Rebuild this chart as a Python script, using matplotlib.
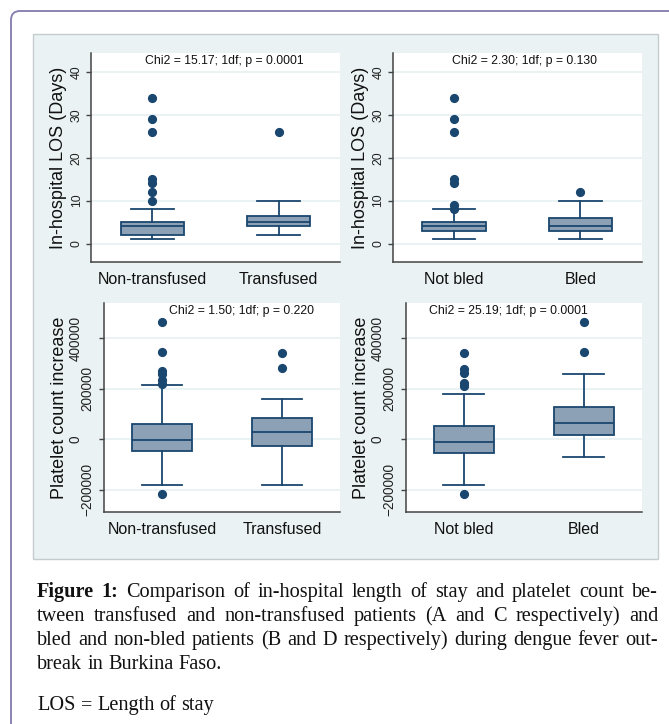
import matplotlib
matplotlib.use("Agg")
import matplotlib.pyplot as plt
from matplotlib.patches import FancyBboxPatch, Rectangle

# ---------------- data ----------------
los_transf_labels = ["Non-transfused", "Transfused"]
los_transf_q1 = [2, 4]
los_transf_med = [4, 5]
los_transf_q3 = [5, 6.5]
los_transf_whislo = [1, 2]
los_transf_whishi = [8, 10]
los_transf_fliers = [[10, 12, 14, 15, 26, 29, 34], [26]]
los_transf_note = "Chi2 = 15.17; 1df; p = 0.0001"

los_bled_labels = ["Not bled", "Bled"]
los_bled_q1 = [3, 3]
los_bled_med = [4, 4]
los_bled_q3 = [5, 6]
los_bled_whislo = [1, 1]
los_bled_whishi = [8, 10]
los_bled_fliers = [[8, 9, 14, 15, 26, 29, 34], [12]]
los_bled_note = "Chi2 = 2.30; 1df; p = 0.130"

plt_transf_labels = ["Non-transfused", "Transfused"]
plt_transf_q1 = [-47700, -26500]
plt_transf_med = [-2000, 29000]
plt_transf_q3 = [59600, 85000]
plt_transf_whislo = [-180000, -180000]
plt_transf_whishi = [214600, 157600]
plt_transf_fliers = [[-218500, 220000, 234000, 257000, 269000, 344000, 463000], [282000, 340000]]
plt_transf_note = "Chi2 = 1.50; 1df; p = 0.220"

plt_bled_labels = ["Not bled", "Bled"]
plt_bled_q1 = [-57000, 17000]
plt_bled_med = [-10600, 65000]
plt_bled_q3 = [51700, 126000]
plt_bled_whislo = [-180000, -70000]
plt_bled_whishi = [177500, 257000]
plt_bled_fliers = [[-218500, 210000, 221000, 260000, 277000, 340000], [344000, 463000]]
plt_bled_note = "Chi2 = 25.19; 1df; p = 0.0001"

los_ticks = [0, 10, 20, 30, 40]
plt_ticks = [-200000, 0, 200000, 400000]
los_ylabel = "In-hospital LOS (Days)"
plt_ylabel = "Platelet count increase"

caption_lines = [
    "Figure 1: Comparison of in-hospital length of stay and platelet count be-",
    "tween transfused and non-transfused patients (A and C respectively) and",
    "bled and non-bled patients (B and D respectively) during dengue fever out-",
    "break in Burkina Faso.",
    "LOS = Length of stay",
]

# ---------------- style ----------------
W, H = 669, 724
BG = "#EAF2F3"
NAVY = "#1A476F"
FILL = "#8CA1B6"
SANS = "Liberation Sans"
SERIF = "Liberation Serif"

fig = plt.figure(figsize=(W / 100, H / 100), dpi=100)
fig.patch.set_facecolor("white")

# outer rounded border (extends past right/bottom)
border = FancyBboxPatch((11, -40), 720, H - 11 + 40, boxstyle="round,pad=0,rounding_size=9",
                        transform=None, fc="none", ec="#8A84B2", lw=1.4, zorder=-3)
fig.add_artist(border)
# graph panel
panel = Rectangle((33 / W, 1 - 559 / H), (658 - 33) / W, (559 - 34) / H, transform=fig.transFigure,
                  fc=BG, ec="#C5CCD0", lw=1.0, zorder=-2)
fig.add_artist(panel)


def make_panel(rect, labels, q1, med, q3, wlo, whi, fliers, note, note_x, ticks, ylim,
               ylabel, ylabel_x, tick_fs, pads):
    ax = fig.add_axes(rect)
    ax.set_facecolor("white")
    stats = []
    for i in range(len(labels)):
        stats.append(dict(label=labels[i], q1=q1[i], med=med[i], q3=q3[i],
                          whislo=wlo[i], whishi=whi[i], fliers=fliers[i]))
    ax.bxp(stats, positions=[1, 2], widths=0.5, capwidths=0.34, patch_artist=True,
           boxprops=dict(facecolor=FILL, edgecolor=NAVY, lw=1.3),
           medianprops=dict(color=NAVY, lw=1.3),
           whiskerprops=dict(color=NAVY, lw=1.3),
           capprops=dict(color=NAVY, lw=1.3),
           flierprops=dict(marker="o", markerfacecolor=NAVY, markeredgecolor=NAVY,
                           markersize=5.6, linestyle="none"))
    ax.set_xlim(0.515, 2.485)
    ax.set_ylim(*ylim)
    ax.set_yticks(ticks)
    ax.set_xticks([1, 2])
    ax.set_xticklabels(labels, fontsize=11.5, family=SANS, color="#111111")
    ax.tick_params(axis="x", length=0, pad=7)
    ax.tick_params(axis="y", length=3.8, width=1.0, color="#444444", labelrotation=90,
                   labelsize=tick_fs, labelcolor="#222222")
    for lab in ax.get_yticklabels():
        lab.set_family(SANS)
        lab.set_va("center")
    for t, p in zip(ax.yaxis.get_major_ticks(), pads):
        t.set_pad(p)
    for s in ["top", "right"]:
        ax.spines[s].set_visible(False)
    for s in ["left", "bottom"]:
        ax.spines[s].set_color("#444444")
        ax.spines[s].set_linewidth(1.1)
    ax.yaxis.grid(True, color=BG, lw=1.4)
    ax.set_axisbelow(True)
    ax.set_ylabel(ylabel, fontsize=13, family=SANS, color="#111111")
    ax.yaxis.set_label_coords(ylabel_x, 0.5)
    ax.text(note_x, 0.963, note, transform=ax.transAxes, ha="center", va="center",
            fontsize=8.8, family=SANS, color="#111111")
    return ax


top_h = 209 / H
make_panel([91 / W, 1 - 262 / H, 249 / W, top_h], los_transf_labels, los_transf_q1, los_transf_med,
           los_transf_q3, los_transf_whislo, los_transf_whishi, los_transf_fliers, los_transf_note,
           0.536, los_ticks, (-4.3, 44.4), los_ylabel, -0.097, 8.8, [2.2] * 5)
make_panel([392.7 / W, 1 - 262 / H, 249 / W, top_h], los_bled_labels, los_bled_q1, los_bled_med,
           los_bled_q3, los_bled_whislo, los_bled_whishi, los_bled_fliers, los_bled_note,
           0.531, los_ticks, (-4.3, 44.4), los_ylabel, -0.095, 8.8, [2.2] * 5)
make_panel([104 / W, 1 - 512 / H, 236 / W, top_h], plt_transf_labels, plt_transf_q1, plt_transf_med,
           plt_transf_q3, plt_transf_whislo, plt_transf_whishi, plt_transf_fliers, plt_transf_note,
           0.583, plt_ticks, (-288700, 539000), plt_ylabel, -0.152, 9.8, [2.9, 11.5, 2.9, 11.5])
make_panel([405.7 / W, 1 - 512 / H, 236 / W, top_h], plt_bled_labels, plt_bled_q1, plt_bled_med,
           plt_bled_q3, plt_bled_whislo, plt_bled_whishi, plt_bled_fliers, plt_bled_note,
           0.433, plt_ticks, (-288700, 539000), plt_ylabel, -0.153, 9.8, [2.9, 11.5, 2.9, 11.5])

# ---------------- caption (justified) ----------------
renderer = fig.canvas.get_renderer()
CAP_FS = 14.6
left_px, right_px = 37, 658
baselines = [597, 621, 645, 669, 710]
justify = [True, True, True, False, False]


def word_width(txt, weight):
    t = fig.text(0, 0, txt, fontsize=CAP_FS, family=SERIF, weight=weight)
    w = t.get_window_extent(renderer).width
    t.remove()
    return w


space_w = word_width("x x", "normal") - word_width("xx", "normal")

for li, line in enumerate(caption_lines):
    words = line.split(" ")
    weights = ["bold" if (li == 0 and wi < 2) else "normal" for wi in range(len(words))]
    widths = [word_width(w, wt) for w, wt in zip(words, weights)]
    if justify[li] and len(words) > 1:
        gap = (right_px - left_px - sum(widths)) / (len(words) - 1)
    else:
        gap = space_w
    x = left_px
    for w, wt, ww in zip(words, weights, widths):
        fig.text(x / W, 1 - baselines[li] / H, w, fontsize=CAP_FS, family=SERIF, weight=wt,
                 va="baseline", ha="left", color="#111111")
        x += ww + gap

fig.savefig("out.png", dpi=100, facecolor="white")
